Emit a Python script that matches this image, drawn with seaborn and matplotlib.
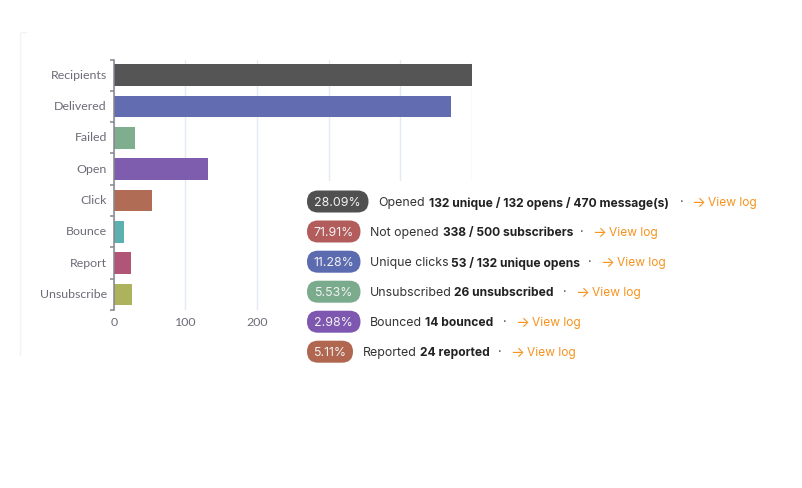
import matplotlib
matplotlib.use("Agg")
import matplotlib.pyplot as plt
from matplotlib.patches import FancyBboxPatch, Rectangle
import numpy as np
import pandas as pd
import seaborn as sns

# donnees du graphique
categories = ["Recipients", "Delivered", "Failed", "Open", "Click", "Bounce", "Report", "Unsubscribe"]
counts = [500, 470, 30, 132, 53, 14, 24, 26]
bar_colors = ["#555555", "#626cb0", "#7fae8e", "#7e5cae", "#b06c55", "#5cb0b0", "#b05575", "#adb35c"]
x_tick_values = [0, 100, 200, 300, 400, 500]
x_tick_labels = ["0", "100", "200", "", "", ""]  # les autres sont caches par le panneau

percents = ["28.09%", "71.91%", "11.28%", "5.53%", "2.98%", "5.11%"]
pill_colors = ["#505050", "#b35c5c", "#5c6bb0", "#7aab8c", "#7e57b0", "#b0664f"]
regular_texts = ["Opened", "Not opened", "Unique clicks", "Unsubscribed", "Bounced", "Reported"]
bold_texts = ["132 unique / 132 opens / 470 message(s)", "338 / 500 subscribers", "53 / 132 unique opens",
              "26 unsubscribed", "14 bounced", "24 reported"]

# mise en page de la liste, en pixels : centre y, fin de pastille, debut texte, debut gras, point, fleche
row_y = [201.5, 231.5, 261.7, 291.7, 321.7, 351.7]
pill_right = [368.5, 360.5, 360.5, 360.5, 360.5, 353]
regular_x = [378.5, 370, 370, 370, 370, 363]
bold_x = [429, 442.7, 451, 454.5, 425.5, 420]
dot_x = [681.7, 582, 590, 565, 505, 500]
arrow_x = [693, 593.7, 601.7, 577, 517, 512]

W, H = 803, 488
sns.set_theme(style="white")
plt.rcParams["font.family"] = ["Lato", "DejaVu Sans"]

df = pd.DataFrame({"category": categories, "count": counts})

fig = plt.figure(figsize=(W / 100, H / 100), dpi=100)
ax = fig.add_axes([113.7 / W, 1 - 310 / H, (472 - 113.7) / W, (310 - 59.5) / H])

sns.barplot(data=df, y="category", x="count", hue="category", palette=bar_colors,
            saturation=1, width=0.69, legend=False, ax=ax, zorder=3, linewidth=0)

ax.set_xlim(0, 500)
ax.set_ylim(len(categories) - 0.5, -0.5)
ax.set_xlabel("")
ax.set_ylabel("")

# graduations entre les barres, etiquettes au centre
ax.set_yticks(np.arange(len(categories) + 1) - 0.5)
ax.set_yticklabels([])
ax.set_yticks(range(len(categories)), labels=categories, minor=True)
ax.tick_params(axis="y", which="major", length=3, width=1.1, color="#85858d", left=True)
ax.tick_params(axis="y", which="minor", length=0, pad=5, labelsize=8.9, labelcolor="#6c6c78")
for lab in ax.get_yticklabels(minor=True):
    lab.set_verticalalignment("center")

ax.set_xticks(x_tick_values, labels=x_tick_labels)
ax.tick_params(axis="x", length=0, pad=5, labelsize=8.9, labelcolor="#6c6c78")
ax.grid(axis="x", color="#e4eaf2", linewidth=1)
ax.set_axisbelow(True)

for side in ["top", "right", "bottom"]:
    ax.spines[side].set_visible(False)
ax.spines["left"].set_color("#85858d")
ax.spines["left"].set_linewidth(1.1)
ax.spines["left"].set_zorder(5)

# couche en pixels pour le panneau de droite
over = fig.add_axes([0, 0, 1, 1], zorder=10)
over.set_xlim(0, W)
over.set_ylim(H, 0)
over.axis("off")
over.patch.set_visible(False)

over.add_patch(Rectangle((290, 181), 513, 200, facecolor="white", edgecolor="none"))
over.plot([20.5, 20.5], [33, 355], color="#f3f3f3", linewidth=1)
over.plot([21, 26], [31.5, 31.5], color="#f3f3f3", linewidth=1)

LEFT = 307
PILL_H = 22
font = ["Inter", "DejaVu Sans"]
for i in range(len(percents)):
    y = row_y[i]
    over.add_patch(FancyBboxPatch((LEFT, y - PILL_H / 2), pill_right[i] - LEFT, PILL_H,
                                  boxstyle="round,pad=0,rounding_size=11",
                                  facecolor=pill_colors[i], edgecolor="none"))
    over.text((LEFT + pill_right[i]) / 2, y, percents[i], color="#f2f2f2", fontsize=8.9,
              family=font, ha="center", va="center_baseline")
    over.text(regular_x[i], y, regular_texts[i], color="#333333", fontsize=8.9,
              family=font, ha="left", va="center_baseline")
    over.text(bold_x[i], y, bold_texts[i], color="#222222", fontsize=8.7, fontweight="bold",
              family=font, ha="left", va="center_baseline")
    over.text(dot_x[i], y, "·", color="#444444", fontsize=9, family=font, ha="center", va="center_baseline")
    over.text(arrow_x[i] - 2, y - 0.5, "→", color="#f7931e", fontsize=10.5, family=font, ha="left", va="center_baseline")
    over.text(arrow_x[i] + 15, y, "View log", color="#f7931e", fontsize=8.6,
              family=font, ha="left", va="center_baseline")

fig.savefig("out.png", dpi=100, facecolor="white")
